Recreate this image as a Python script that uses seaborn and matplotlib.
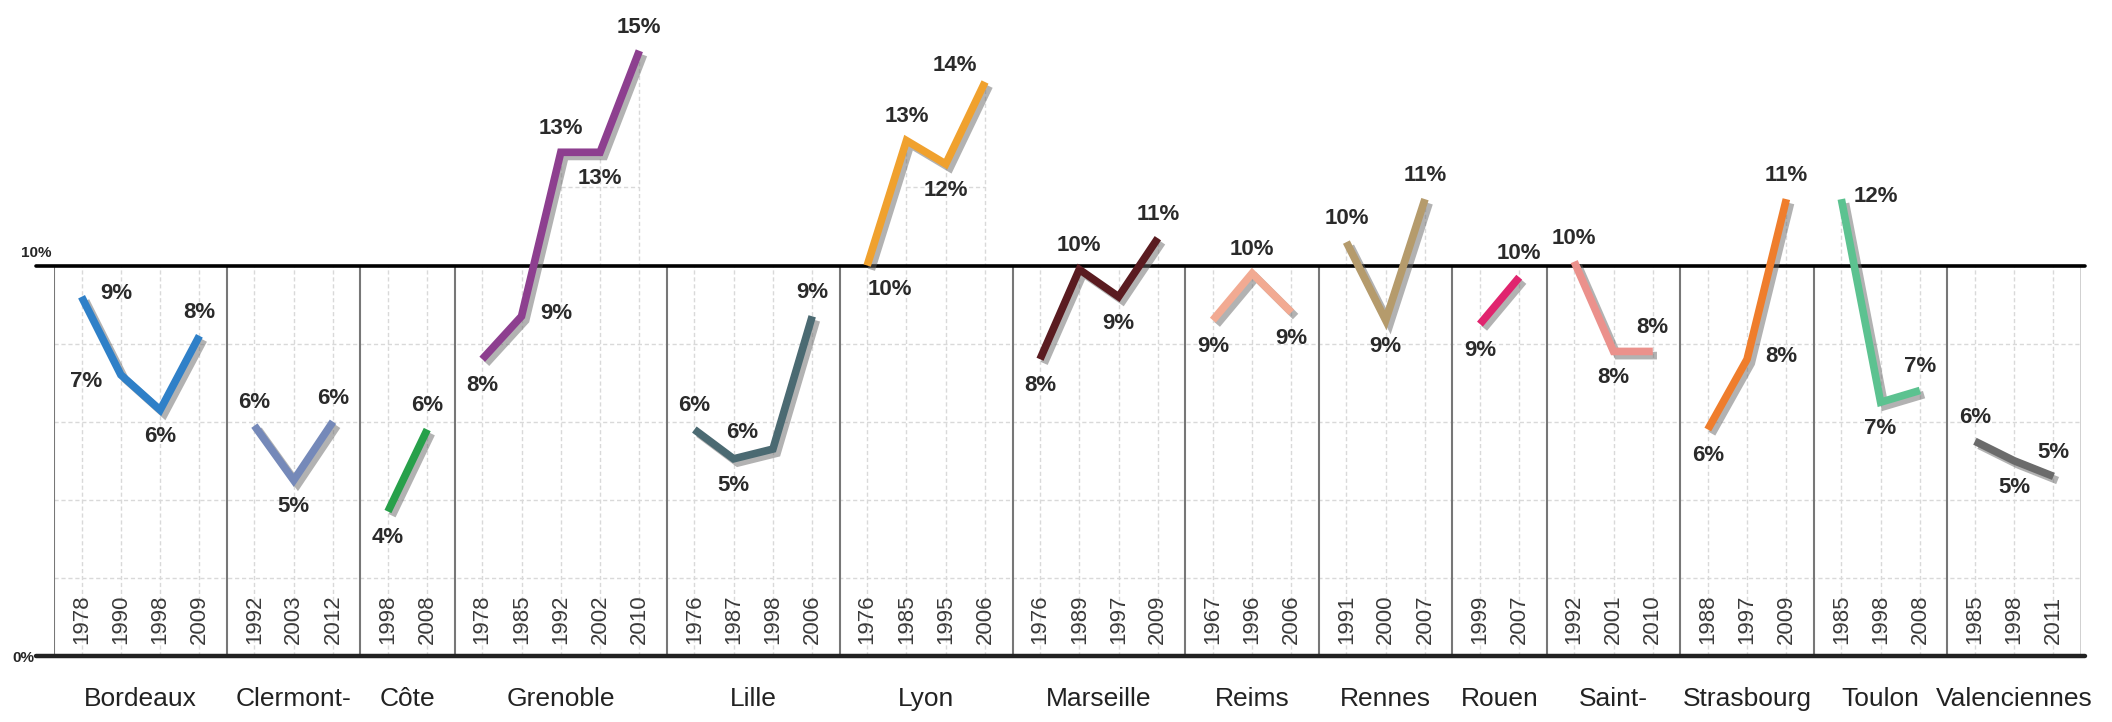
import matplotlib
matplotlib.use("Agg")
import matplotlib.pyplot as plt
import matplotlib.patheffects as pe
from matplotlib import font_manager
import seaborn as sns
import numpy as np
import pandas as pd

# --- DATA ---
cities = ["Bordeaux", "Clermont-", "Côte", "Grenoble", "Lille", "Lyon", "Marseille",
          "Reims", "Rennes", "Rouen", "Saint-", "Strasbourg", "Toulon", "Valenciennes"]

years = [
    [1978, 1990, 1998, 2009],
    [1992, 2003, 2012],
    [1998, 2008],
    [1978, 1985, 1992, 2002, 2010],
    [1976, 1987, 1998, 2006],
    [1976, 1985, 1995, 2006],
    [1976, 1989, 1997, 2009],
    [1967, 1996, 2006],
    [1991, 2000, 2007],
    [1999, 2007],
    [1992, 2001, 2010],
    [1988, 1997, 2009],
    [1985, 1998, 2008],
    [1985, 1998, 2011],
]

rates = [
    [9.2, 7.2, 6.3, 8.2],
    [5.9, 4.5, 6.0],
    [3.7, 5.8],
    [7.6, 8.7, 12.9, 12.9, 15.5],
    [5.8, 5.05, 5.3, 8.7],
    [10.0, 13.2, 12.6, 14.7],
    [7.6, 9.9, 9.2, 10.7],
    [8.6, 9.8, 8.8],
    [10.6, 8.6, 11.7],
    [8.5, 9.7],
    [10.1, 7.8, 7.8],
    [5.8, 7.6, 11.7],
    [11.7, 6.5, 6.8],
    [5.5, 5.0, 4.6],
]

rate_labels = [
    [9, 7, 6, 8],
    [6, 5, 6],
    [4, 6],
    [8, 9, 13, 13, 15],
    [6, 5, 6, 9],
    [10, 13, 12, 14],
    [8, 10, 9, 11],
    [9, 10, 9],
    [10, 9, 11],
    [9, 10],
    [10, 8, 8],
    [6, 8, 11],
    [12, 7, 7],
    [6, 5, 5],
]

colors = ["#2f80c8", "#7589b9", "#27a04a", "#8d3f8f", "#4b6a72", "#f0a12e", "#5a1b20",
          "#f2aa92", "#b59b6c", "#e0246e", "#eb918c", "#ef7d2c", "#5cc290", "#6b6b6b"]

# where each value label sits relative to its point
placement = [
    ["r", "l", "b", "a"],
    ["a", "b", "a"],
    ["b", "a"],
    ["b", "r", "a", "b", "a"],
    ["a", "b", "al", "a"],
    ["br", "a", "b", "al"],
    ["b", "a", "b", "a"],
    ["b", "a", "b"],
    ["a", "b", "a"],
    ["b", "a"],
    ["a", "b", "a"],
    ["b", "r", "a"],
    ["r", "b", "a"],
    ["a", "b", "a"],
]
offsets = {"a": (0, 17), "b": (0, -19), "r": (25, 2), "l": (-25, -5),
           "br": (16, -17), "al": (-22, 12)}

# --- STYLE ---
sns.set_style("white")
names = {f.name for f in font_manager.fontManager.ttflist}
base_font = "Liberation Sans" if "Liberation Sans" in names else "DejaVu Sans"
narrow_font = "Liberation Sans Narrow" if "Liberation Sans Narrow" in names else base_font
plt.rcParams["font.family"] = [base_font, "DejaVu Sans"]

# --- LAYOUT OF SECTIONS ---
pad = 0.7
rows = []
bounds = [0.0]
centers = []
start = 0.0
for city, yrs, vals in zip(cities, years, rates):
    xs = start + pad + np.arange(len(yrs))
    for x, yr, v in zip(xs, yrs, vals):
        rows.append({"city": city, "year": yr, "x": x, "rate": v})
    end = start + 2 * pad + len(yrs) - 1
    centers.append((start + end) / 2)
    bounds.append(end)
    start = end
df = pd.DataFrame(rows)
total = bounds[-1]

fig = plt.figure(figsize=(21.12, 7.22), dpi=100)
ax = fig.add_axes([0.0256, 0.0914, 0.9597, 0.9086])
ax.set_xlim(0, total)
ax.set_ylim(0, 16.8)
ax.axis("off")

# grid
grid_kw = dict(colors="#d9d9d9", linestyles=(0, (3, 2)), lw=1, zorder=1)
ax.hlines([2, 4, 6, 8], 0, total, **grid_kw)
for x, v in zip(df["x"], df["rate"]):
    ax.vlines(x, 0, max(10, v), **grid_kw)
for city in cities:
    sub = df[df["city"] == city]
    for g in (12, 14):
        hit = sub[sub["rate"] >= g]
        if len(hit) > 1:
            ax.hlines(g, hit["x"].min(), hit["x"].max(), **grid_kw)
ax.vlines(bounds[:-1], 0, 10, colors="#777777", lw=1.5, zorder=2)
ax.vlines(bounds[-1], 0, 10, colors="#c8c8c8", lw=1.2, zorder=2)

# lines
sns.lineplot(data=df, x="x", y="rate", hue="city", hue_order=cities,
             palette=dict(zip(cities, colors)), legend=False, sort=False,
             estimator=None, lw=5.5, ax=ax)
for line in ax.lines:
    line.set_solid_joinstyle("miter")
    line.set_solid_capstyle("butt")
    line.set_zorder(4)
    line.set_path_effects([pe.SimpleLineShadow(offset=(3, -3), shadow_color="0.4", alpha=0.5),
                           pe.Normal()])

# reference lines
ax.plot([-0.45, total + 0.1], [10, 10], color="black", lw=2.6, clip_on=False, zorder=3)
ax.plot([-0.45, total + 0.1], [0, 0], color="#222222", lw=3.2, clip_on=False, zorder=3)
ax.text(-0.85, 10.15, "10%", fontsize=11, fontweight="bold", ha="left", va="bottom")
ax.text(-1.05, -0.05, "0%", fontsize=11, fontweight="bold", ha="left", va="center")

# value labels
for city, codes, labs in zip(cities, placement, rate_labels):
    sub = df[df["city"] == city]
    for (x, v), code, lab in zip(zip(sub["x"], sub["rate"]), codes, labs):
        ax.annotate(f"{lab}%", (x, v), xytext=offsets[code], textcoords="offset points",
                    ha="center", va="center", fontsize=16, fontweight="bold",
                    color="#2a2a2a", zorder=5)

# year labels
for x, yr in zip(df["x"], df["year"]):
    ax.text(x, 0.3, str(yr), rotation=90, ha="center", va="bottom", fontsize=16,
            family=[narrow_font, "DejaVu Sans"], color="#3a3a3a", zorder=2)

# city names
for c, name in zip(centers, cities):
    ax.text(c, -1.1, name, ha="center", va="center", fontsize=19,
            family=[narrow_font, "DejaVu Sans"], color="#222222", clip_on=False)

fig.savefig("out.png", dpi=100)
